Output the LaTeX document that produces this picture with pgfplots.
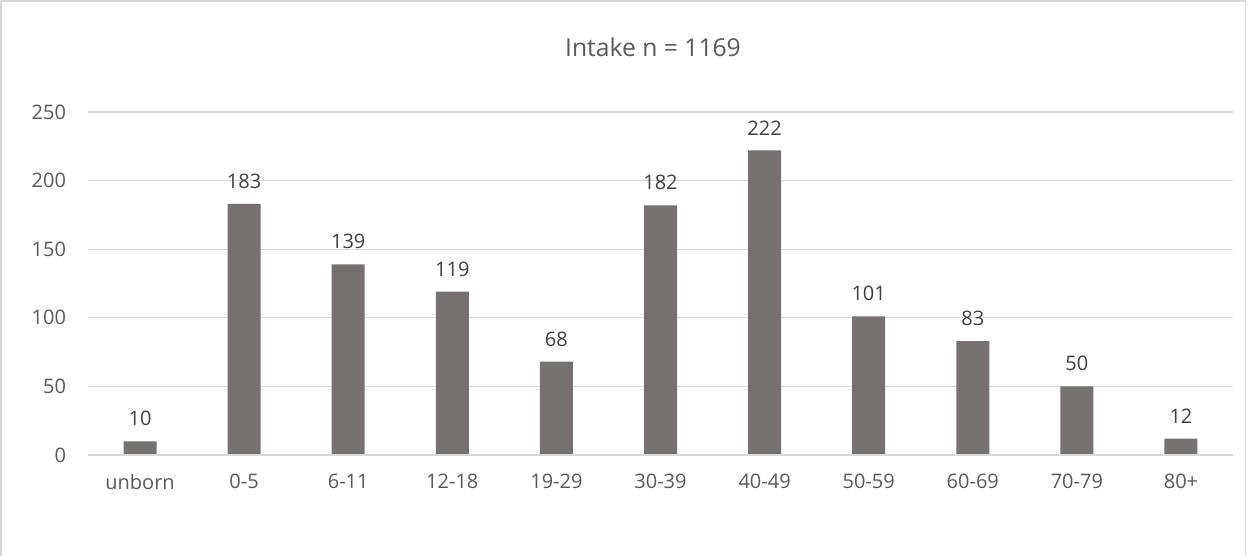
\documentclass[border=0pt]{standalone}
\usepackage{pgfplots}
\pgfplotsset{compat=1.18}
\usepackage{fontspec}
\setmainfont{Open Sans}
\definecolor{barc}{HTML}{767171}
\definecolor{gridc}{HTML}{D9D9D9}
\definecolor{txt}{HTML}{595959}
\definecolor{lbl}{HTML}{404040}
\begin{document}
\begin{tikzpicture}[x=1pt,y=1pt]
\path[use as bounding box] (0,0) rectangle (936.75,417);
\draw[gridc,line width=1pt] (0.75,-1) rectangle (934,416.25);
\node[txt,font=\fontsize{18.5}{20}\selectfont] at (489.75,381.75) {Intake n = 1169};
\begin{axis}[
  at={(66pt,75.75pt)}, anchor=south west,
  scale only axis, width=858.75pt, height=257.25pt,
  ymin=0, ymax=250, ytick={0,50,...,250},
  xmin=-0.5, xmax=10.5, xtick=data,
  xticklabels={unborn,0-5,6-11,12-18,19-29,30-39,40-49,50-59,60-69,70-79,80+},
  axis line style={draw=none},
  ymajorgrids, grid style={gridc,line width=1pt},
  major tick length=0pt,
  tick label style={txt,font=\fontsize{15}{17}\selectfont},
  /pgf/number format/assume math mode=true,
  xticklabel style={yshift=-11pt},
  yticklabel style={xshift=-13pt},
  nodes near coords,
  every node near coord/.append style={lbl,font=\fontsize{15}{17}\selectfont,yshift=8pt},
  clip=false,
]
\addplot[ybar, bar width=24.75pt, fill=barc, draw=none] coordinates {
(0,10) (1,183) (2,139) (3,119) (4,68) (5,182) (6,222) (7,101) (8,83) (9,50) (10,12)};
\draw[gridc,line width=1pt] (axis cs:-0.5,0) -- (axis cs:10.5,0);
\end{axis}
\end{tikzpicture}
\end{document}
